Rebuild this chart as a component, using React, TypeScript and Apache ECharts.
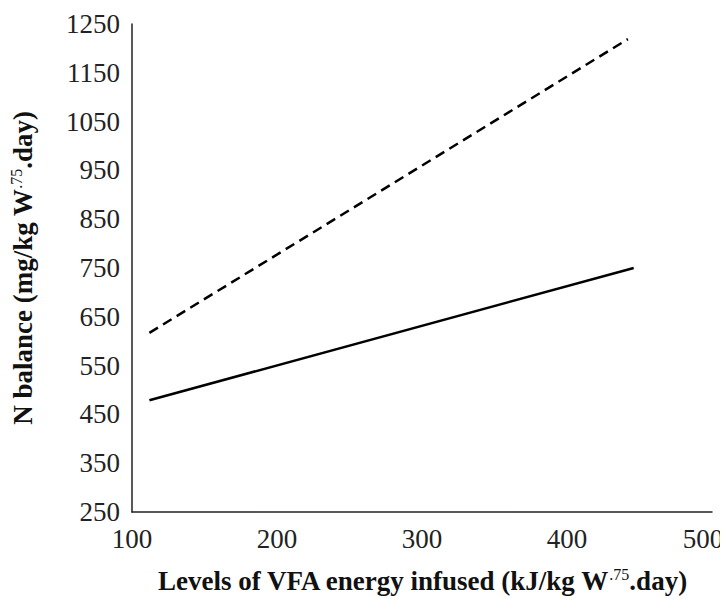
import React, { useEffect, useRef } from "react";
import * as echarts from "echarts";

const solidX = [112, 446];
const solidY = [479, 750];
const dashedX = [112, 442];
const dashedY = [617, 1219];
const yTicks = { min: 250, max: 1250, interval: 100 };
const xTicks = { min: 100, max: 500, interval: 100 };

const FONT = "'Liberation Serif', 'DejaVu Serif', serif";

export default function App() {
  const ref = useRef<HTMLDivElement>(null);
  useEffect(() => {
    if (!ref.current) return;
    const chart = echarts.init(ref.current, null, { renderer: "svg" });
    const titleRich = {
      b: { fontFamily: FONT, fontSize: 27, fontWeight: "bold", color: "#111" },
      sup: { fontFamily: FONT, fontSize: 16, fontWeight: "normal", color: "#111", verticalAlign: "top", lineHeight: 30 },
    };
    chart.setOption({
      animation: false,
      backgroundColor: "#fff",
      grid: { left: 124, top: 16, right: 16, bottom: 87, outerBoundsMode: "none", containLabel: false },
      xAxis: {
        type: "value",
        min: xTicks.min,
        max: xTicks.max,
        interval: xTicks.interval,
        axisLine: { lineStyle: { color: "#222", width: 1.5 } },
        axisTick: { show: false },
        splitLine: { show: false },
        axisLabel: {
          fontFamily: FONT,
          fontSize: 27,
          color: "#222",
          margin: 13,
          formatter: (v: number) => (v === xTicks.max ? `{last|${v}}` : String(v)),
          rich: {
            last: { fontFamily: FONT, fontSize: 27, color: "#222", padding: [0, 18, 0, 0] },
          },
        },
        name: "{b|Levels of VFA energy infused (kJ/kg W}{sup|.75}{b|.day)}",
        nameLocation: "middle",
        nameGap: 54,
        nameTextStyle: { rich: titleRich },
      },
      yAxis: {
        type: "value",
        min: yTicks.min,
        max: yTicks.max,
        interval: yTicks.interval,
        axisLine: { show: true, lineStyle: { color: "#222", width: 1.5 } },
        axisTick: { show: false },
        splitLine: { show: false },
        axisLabel: {
          fontFamily: FONT,
          fontSize: 27,
          color: "#222",
          margin: 12,
          formatter: (v: number) => String(v),
        },
        name: "{b|N balance (mg/kg W}{sup|.75}{b|.day)}",
        nameLocation: "middle",
        nameRotate: 90,
        nameGap: 94,
        nameTextStyle: { rich: titleRich },
      },
      series: [
        {
          type: "line",
          data: solidX.map((x, i) => [x, solidY[i]]),
          showSymbol: false,
          lineStyle: { color: "#000", width: 2.5, type: "solid" },
        },
        {
          type: "line",
          data: dashedX.map((x, i) => [x, dashedY[i]]),
          showSymbol: false,
          lineStyle: { color: "#000", width: 2.5, type: [10, 6] },
        },
      ],
    });
    return () => chart.dispose();
  }, []);
  return <div ref={ref} style={{ width: 720, height: 591 }} />;
}
